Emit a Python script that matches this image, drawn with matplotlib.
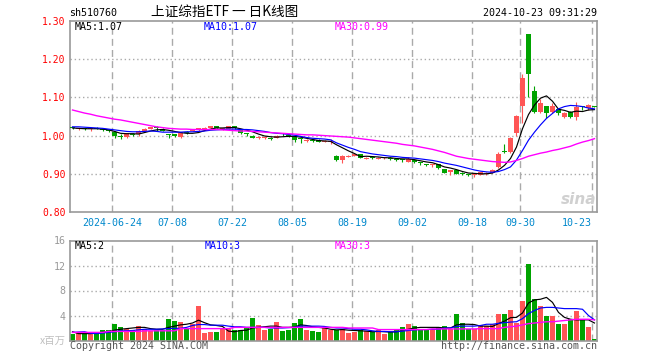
import matplotlib
matplotlib.use('Agg')
import matplotlib.pyplot as plt
import numpy as np

# ---- data (510760) ----
opens = [1.021, 1.016, 1.019, 1.016, 1.019, 1.018, 1.015, 1.009, 0.998, 0.997,
         1.005, 1.005, 1.012, 1.018, 1.020, 1.018, 1.003, 1.003, 0.996, 1.010,
         1.013, 1.017, 1.018, 1.019, 1.025, 1.017, 1.018, 1.025, 1.014, 1.004,
         1.000, 0.994, 0.995, 0.995, 0.994, 1.004, 1.002, 0.996, 0.992, 0.986,
         0.987, 0.989, 0.984, 0.983, 0.946, 0.937, 0.945, 0.947, 0.951, 0.940,
         0.942, 0.940, 0.941, 0.941, 0.940, 0.937, 0.932, 0.937, 0.929, 0.924,
         0.922, 0.925, 0.912, 0.905, 0.909, 0.902, 0.898, 0.896, 0.897, 0.900,
         0.903, 0.917, 0.959, 0.958, 1.006, 1.078, 1.266, 1.117, 1.062, 1.077,
         1.062, 1.070, 1.050, 1.063, 1.048, 1.076, 1.072, 1.077]
highs = [1.023, 1.021, 1.020, 1.021, 1.022, 1.020, 1.017, 1.011, 1.003, 1.007,
         1.008, 1.014, 1.019, 1.023, 1.024, 1.020, 1.004, 1.004, 1.008, 1.012,
         1.017, 1.021, 1.022, 1.026, 1.026, 1.021, 1.026, 1.026, 1.015, 1.008,
         1.001, 0.998, 0.999, 0.997, 1.001, 1.006, 1.003, 0.997, 0.995, 0.990,
         0.990, 0.990, 0.989, 0.990, 0.948, 0.948, 0.948, 0.953, 0.952, 0.944,
         0.944, 0.944, 0.945, 0.943, 0.941, 0.939, 0.944, 0.938, 0.931, 0.926,
         0.925, 0.926, 0.913, 0.911, 0.910, 0.904, 0.900, 0.899, 0.906, 0.904,
         0.913, 0.956, 0.977, 0.997, 1.053, 1.160, 1.266, 1.130, 1.095, 1.078,
         1.085, 1.071, 1.063, 1.064, 1.089, 1.078, 1.083, 1.078]
lows = [1.016, 1.014, 1.015, 1.013, 1.016, 1.013, 1.010, 0.993, 0.992, 0.994,
        1.000, 0.999, 1.010, 1.016, 1.013, 1.011, 0.993, 0.997, 0.993, 1.005,
        1.011, 1.013, 1.015, 1.018, 1.019, 1.014, 1.017, 1.018, 1.005, 0.998,
        0.994, 0.991, 0.992, 0.989, 0.993, 1.000, 0.997, 0.983, 0.980, 0.984,
        0.983, 0.983, 0.982, 0.978, 0.933, 0.929, 0.944, 0.946, 0.941, 0.938,
        0.939, 0.938, 0.939, 0.937, 0.933, 0.930, 0.931, 0.929, 0.922, 0.920,
        0.918, 0.913, 0.902, 0.898, 0.899, 0.897, 0.894, 0.892, 0.896, 0.898,
        0.901, 0.914, 0.955, 0.955, 0.998, 1.032, 1.102, 1.058, 1.058, 1.047,
        1.060, 1.053, 1.047, 1.045, 1.041, 1.066, 1.068, 1.075]
closes = [1.019, 1.019, 1.017, 1.018, 1.018, 1.015, 1.012, 1.000, 0.997, 1.006,
          1.002, 1.011, 1.017, 1.022, 1.019, 1.013, 1.001, 0.998, 1.008, 1.006,
          1.016, 1.019, 1.020, 1.024, 1.020, 1.019, 1.025, 1.019, 1.006, 1.003,
          0.995, 0.996, 0.997, 0.992, 1.000, 1.003, 1.000, 0.988, 0.990, 0.988,
          0.986, 0.984, 0.986, 0.987, 0.936, 0.947, 0.947, 0.952, 0.942, 0.942,
          0.941, 0.942, 0.943, 0.940, 0.936, 0.935, 0.940, 0.931, 0.927, 0.923,
          0.924, 0.915, 0.903, 0.910, 0.900, 0.900, 0.896, 0.898, 0.905, 0.902,
          0.911, 0.952, 0.958, 0.993, 1.051, 1.150, 1.162, 1.062, 1.086, 1.060,
          1.078, 1.058, 1.060, 1.048, 1.075, 1.075, 1.079, 1.076]

ma5 = [1.020, 1.019, 1.018, 1.018, 1.018, 1.017, 1.015, 1.011, 1.006, 1.005,
       1.005, 1.004, 1.008, 1.012, 1.015, 1.016, 1.014, 1.011, 1.008, 1.006,
       1.006, 1.008, 1.013, 1.017, 1.020, 1.020, 1.021, 1.021, 1.018, 1.014,
       1.010, 1.004, 0.999, 0.997, 0.996, 0.997, 0.998, 0.998, 0.996, 0.993,
       0.990, 0.987, 0.986, 0.985, 0.976, 0.968, 0.960, 0.953, 0.945, 0.946,
       0.945, 0.944, 0.942, 0.942, 0.940, 0.939, 0.939, 0.937, 0.934, 0.931,
       0.929, 0.924, 0.918, 0.915, 0.911, 0.906, 0.902, 0.901, 0.900, 0.900,
       0.902, 0.910, 0.922, 0.940, 0.970, 1.018, 1.055, 1.080, 1.098, 1.104,
       1.090, 1.069, 1.066, 1.061, 1.064, 1.063, 1.067, 1.068]
ma10 = [1.023, 1.023, 1.022, 1.021, 1.020, 1.019, 1.017, 1.015, 1.013, 1.011,
        1.010, 1.010, 1.011, 1.012, 1.011, 1.009, 1.009, 1.009, 1.009, 1.010,
        1.010, 1.011, 1.012, 1.014, 1.015, 1.016, 1.017, 1.017, 1.016, 1.016,
        1.015, 1.013, 1.011, 1.008, 1.006, 1.005, 1.003, 1.001, 0.998, 0.995,
        0.993, 0.992, 0.991, 0.989, 0.981, 0.975, 0.969, 0.964, 0.958, 0.955,
        0.952, 0.950, 0.948, 0.946, 0.945, 0.943, 0.942, 0.941, 0.939, 0.937,
        0.935, 0.932, 0.928, 0.925, 0.922, 0.918, 0.914, 0.910, 0.907, 0.905,
        0.904, 0.906, 0.911, 0.918, 0.936, 0.961, 0.988, 1.009, 1.028, 1.045,
        1.058, 1.070, 1.076, 1.079, 1.078, 1.076, 1.072, 1.070]
ma30 = [1.067, 1.063, 1.059, 1.056, 1.052, 1.049, 1.046, 1.043, 1.041, 1.038,
        1.035, 1.032, 1.029, 1.026, 1.023, 1.021, 1.019, 1.018, 1.017, 1.017,
        1.016, 1.016, 1.016, 1.016, 1.016, 1.015, 1.014, 1.013, 1.012, 1.012,
        1.011, 1.010, 1.009, 1.008, 1.007, 1.006, 1.005, 1.004, 1.003, 1.002,
        1.002, 1.001, 1.000, 0.999, 0.998, 0.997, 0.996, 0.994, 0.992, 0.990,
        0.988, 0.986, 0.984, 0.982, 0.980, 0.977, 0.975, 0.973, 0.970, 0.967,
        0.964, 0.960, 0.956, 0.951, 0.946, 0.943, 0.940, 0.938, 0.936, 0.934,
        0.932, 0.931, 0.930, 0.931, 0.935, 0.940, 0.946, 0.950, 0.954, 0.957,
        0.961, 0.964, 0.968, 0.972, 0.978, 0.983, 0.987, 0.992]

# volume, millions of shares
volume = [1.1, 1.3, 1.3, 1.1, 1.3, 1.65, 1.65, 2.6, 2.1, 1.9,
          1.65, 2.3, 1.9, 1.5, 1.65, 1.65, 3.4, 3.1, 2.9, 1.9,
          2.7, 5.5, 1.2, 1.35, 1.35, 1.9, 1.9, 1.65, 1.65, 2.0,
          3.6, 2.45, 1.65, 1.9, 2.9, 1.5, 1.65, 2.8, 3.4, 1.7,
          1.5, 1.4, 2.0, 1.75, 1.65, 1.9, 1.2, 1.4, 1.65, 1.5,
          1.3, 1.65, 1.1, 1.3, 1.75, 2.1, 2.6, 2.3, 1.9, 1.9,
          1.9, 2.1, 2.3, 1.9, 4.3, 2.8, 1.9, 1.9, 2.45, 2.3,
          2.6, 4.2, 4.2, 4.85, 2.8, 6.3, 12.2, 6.6, 5.6, 3.9,
          3.9, 2.7, 2.7, 3.5, 4.7, 3.4, 2.1, 0.2]
vma5 = [1.4, 1.1, 1.1, 1.1, 1.2, 1.3, 1.4, 1.65, 1.8, 1.9,
        2.0, 2.1, 2.1, 1.9, 1.8, 1.8, 2.1, 2.3, 2.5, 2.6,
        2.8, 3.25, 2.85, 2.5, 2.4, 2.25, 1.5, 1.4, 1.6, 1.65,
        2.0, 2.1, 2.2, 2.3, 2.3, 2.1, 2.1, 2.15, 2.5, 2.4,
        2.2, 2.1, 2.0, 1.8, 1.7, 1.75, 1.65, 1.6, 1.55, 1.5,
        1.4, 1.45, 1.4, 1.35, 1.4, 1.6, 1.8, 2.0, 2.1, 2.1,
        2.1, 2.1, 2.0, 2.0, 2.5, 2.6, 2.6, 2.55, 2.3, 2.3,
        2.25, 2.7, 3.1, 3.65, 3.7, 4.4, 6.0, 6.5, 6.6, 6.9,
        6.1, 4.5, 3.7, 3.4, 3.3, 3.3, 3.3, 2.8]
vma10 = [1.3, 1.35, 1.4, 1.15, 1.1, 1.2, 1.3, 1.4, 1.55, 1.55,
         1.6, 1.7, 1.8, 1.8, 1.8, 1.85, 1.9, 1.95, 1.95, 2.1,
         2.4, 2.55, 2.55, 2.45, 2.45, 2.45, 2.3, 2.2, 2.2, 2.1,
         2.1, 2.1, 2.1, 2.0, 2.0, 2.0, 2.05, 2.1, 2.3, 2.3,
         2.3, 2.3, 2.25, 2.1, 2.0, 2.0, 1.9, 1.8, 1.8, 1.7,
         1.55, 1.45, 1.45, 1.4, 1.4, 1.5, 1.6, 1.7, 1.75, 1.75,
         1.8, 1.8, 2.0, 2.0, 2.25, 2.3, 2.3, 2.3, 2.4, 2.6,
         2.6, 2.75, 2.85, 2.95, 3.0, 3.5, 4.3, 4.8, 5.2, 5.3,
         5.3, 5.2, 5.1, 5.1, 5.1, 5.0, 4.0, 3.3]
vma30 = [1.3, 1.3, 1.3, 1.3, 1.3, 1.3, 1.45, 1.45, 1.45, 1.45,
         1.45, 1.45, 1.55, 1.55, 1.55, 1.55, 1.55, 1.55, 1.9, 1.9,
         1.9, 1.9, 1.9, 1.9, 1.9, 1.9, 1.9, 2.1, 2.1, 2.1,
         2.1, 2.1, 2.1, 2.1, 2.1, 2.1, 2.1, 2.1, 2.1, 2.1,
         2.1, 2.1, 2.1, 2.1, 2.1, 2.1, 2.0, 2.0, 2.0, 2.0,
         2.0, 1.75, 1.75, 1.75, 1.75, 1.75, 1.75, 1.75, 1.75, 1.75,
         1.85, 1.85, 1.85, 1.85, 1.85, 1.85, 1.85, 1.85, 1.9, 1.9,
         1.9, 1.9, 2.1, 2.2, 2.3, 2.5, 2.7, 2.8, 2.9, 3.0,
         3.0, 3.1, 3.2, 3.3, 3.4, 3.4, 3.4, 3.3]

date_idx = [7, 17, 27, 37, 47, 57, 67, 75, 87]
date_labels = ['2024-06-24', '07-08', '07-22', '08-05', '08-19',
               '09-02', '09-18', '09-30', '10-23']
price_ticks = [0.80, 0.90, 1.00, 1.10, 1.20, 1.30]
vol_ticks = [4, 8, 12, 16]

# ---- styling ----
RED = '#ff5555'
GREEN = '#00a300'
FRAME = '#999999'
GRID = '#aaaaaa'
MONO = 'DejaVu Sans Mono'
CJK = ['Noto Sans CJK SC', 'DejaVu Sans']

W, H = 660, 360
fig = plt.figure(figsize=(6.6, 3.6), dpi=100)
fig.patch.set_facecolor('white')


def box(l, t, r, b):
    return [l / W, 1 - b / H, (r - l) / W, (b - t) / H]


def px(xp, yp):
    return xp / W, 1 - yp / H


ax = fig.add_axes(box(70, 21, 597, 212))
axv = fig.add_axes(box(70, 240.5, 597, 340.5))

x = np.arange(len(closes))
o = np.array(opens)
c = np.array(closes)
colors = np.where(c >= o, RED, GREEN)
grid_x = [i - 0.4 for i in date_idx]

for a in (ax, axv):
    a.set_xlim(-0.42, len(closes) - 0.58)
    for s in a.spines.values():
        s.set_color(FRAME)
        s.set_linewidth(1.2)
    for gx in grid_x:
        a.axvline(gx, color=GRID, lw=1, dashes=(5, 3), zorder=0)
    a.tick_params(length=0)

# price panel
for yv in price_ticks[1:-1]:
    ax.axhline(yv, color=GRID, lw=1, dashes=(1, 2), zorder=0)
ax.vlines(x, lows, highs, colors=colors, lw=0.8, zorder=2)
ax.bar(x, np.maximum(np.abs(c - o), 0.0026), bottom=np.minimum(o, c),
       width=0.8, color=colors, linewidth=0, zorder=3)
ax.plot(x, ma5, color='black', lw=0.85, zorder=4)
ax.plot(x, ma10, color='#0000ff', lw=0.85, zorder=4)
ax.plot(x, ma30, color='#ff00ff', lw=1.0, zorder=4)
ax.set_ylim(0.80, 1.30)
ax.set_yticks(price_ticks)
ax.set_yticklabels(['%.2f' % v for v in price_ticks], color='#ff0000',
                   family=MONO, fontsize=7)
ax.tick_params(axis='y', pad=3)
ax.set_xticks(grid_x)
ax.set_xticklabels(date_labels, color='#0088cc', family=MONO, fontsize=7.2)
ax.tick_params(axis='x', pad=4)
ax.get_xticklabels()[-1].set_ha('right')

# volume panel
for yv in vol_ticks[:-1]:
    axv.axhline(yv, color=GRID, lw=1, dashes=(1, 2), zorder=0)
axv.bar(x, volume, width=0.8, color=colors, linewidth=0, zorder=2)
axv.plot(x, vma5, color='black', lw=0.85, zorder=4)
axv.plot(x, vma10, color='#0000ff', lw=0.85, zorder=4)
axv.plot(x, vma30, color='#ff00ff', lw=1.0, zorder=4)
axv.set_ylim(0, 16)
axv.set_yticks(vol_ticks)
axv.set_yticklabels([str(v) for v in vol_ticks], color='#999999',
                    family=MONO, fontsize=7.2)
axv.tick_params(axis='y', pad=3)
axv.set_xticks([])

# header texts
fig.text(*px(69, 13), 'sh510760', family=MONO, fontsize=7.2, va='center')
fig.text(*px(151, 12), '上证综指ETF 一 日K线图', family=CJK, fontsize=9.8,
         va='center')
fig.text(*px(597, 13), '2024-10-23 09:31:29', family=MONO, fontsize=7.2,
         va='center', ha='right')

# MA legends
fig.text(*px(75, 27), 'MA5:1.07', family=MONO, fontsize=7.2, va='center',
         color='black')
fig.text(*px(204, 27), 'MA10:1.07', family=MONO, fontsize=7.2, va='center',
         color='#0000ff')
fig.text(*px(335, 27), 'MA30:0.99', family=MONO, fontsize=7.2, va='center',
         color='#ff00ff')
fig.text(*px(75, 246), 'MA5:2', family=MONO, fontsize=7.2, va='center',
         color='black')
fig.text(*px(205, 246), 'MA10:3', family=MONO, fontsize=7.2, va='center',
         color='#0000ff')
fig.text(*px(335, 246), 'MA30:3', family=MONO, fontsize=7.2, va='center',
         color='#ff00ff')

# footer
fig.text(*px(66, 341), 'x百万', family=CJK, fontsize=7.5, va='center',
         ha='right', color='#c0c0c0')
fig.text(*px(70, 346), 'Copyright 2024 SINA.COM', family=MONO, fontsize=7.2,
         va='center', color='#555555')
fig.text(*px(597, 346), 'http://finance.sina.com.cn', family=MONO,
         fontsize=7.2, va='center', ha='right', color='#555555')
fig.text(*px(596, 200), 'sina', fontsize=11, fontweight='bold',
         fontstyle='italic', va='center', ha='right', color='#d0d0d0')

fig.savefig('out.png', dpi=100)
